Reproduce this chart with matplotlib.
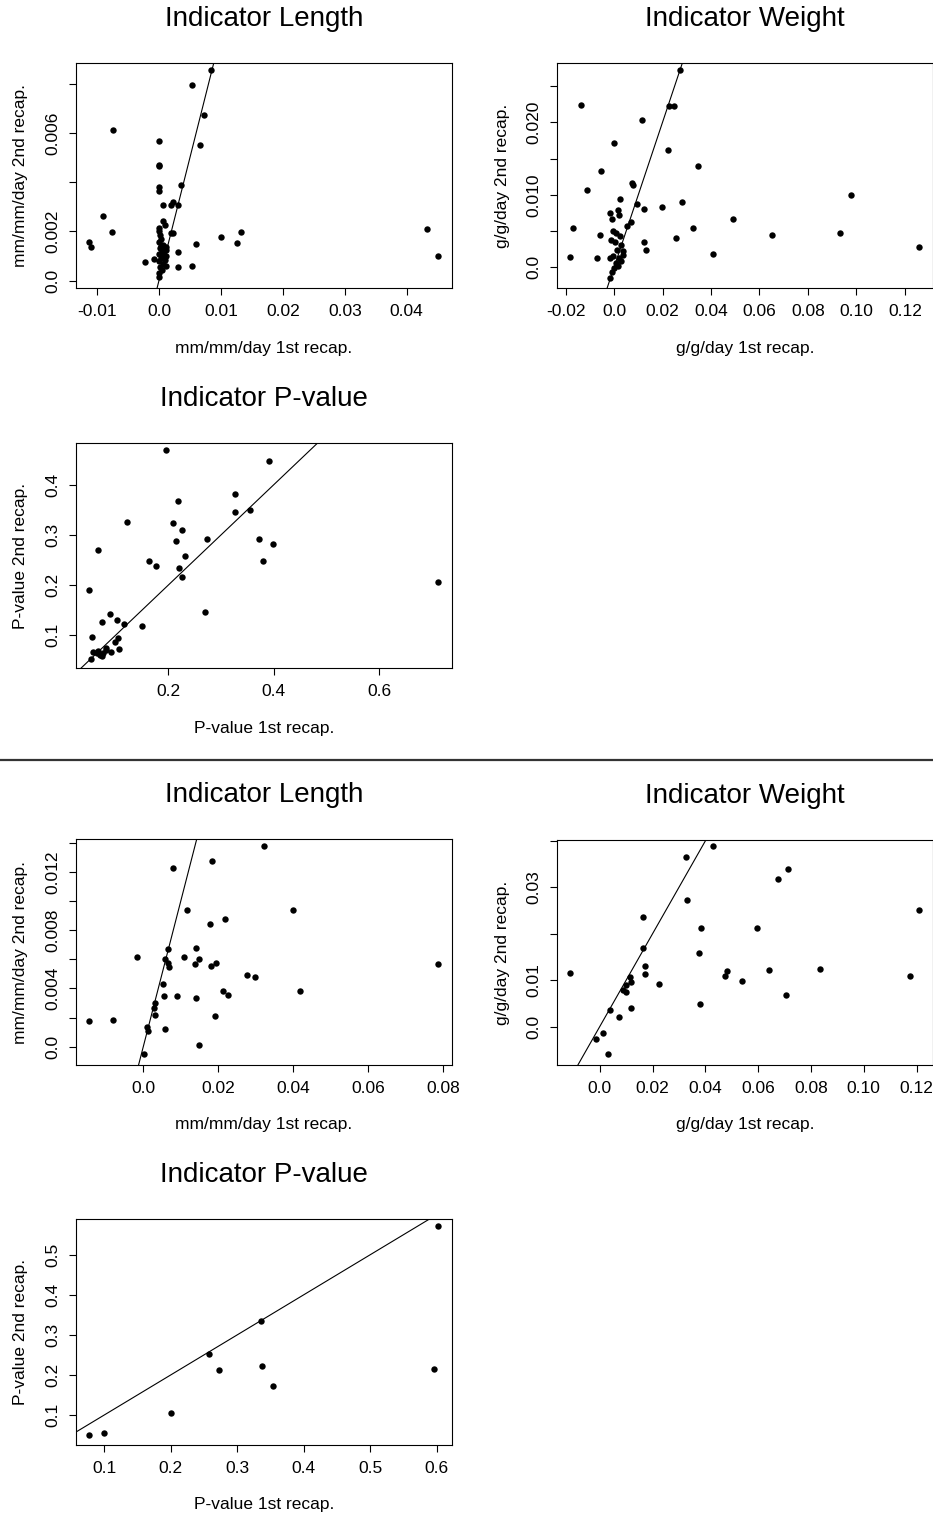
import numpy as np
import matplotlib
matplotlib.use('Agg')
import matplotlib.pyplot as plt
from matplotlib.lines import Line2D

plt.rcParams['font.family'] = ['Liberation Sans', 'DejaVu Sans']

# ---- top group ----
len1_x = [0.00833, 0.00532, 0.00726, -0.00742, 0.0, 0.00667, 0.0, 0.0, 0.00349, 0.0, 0.0,
          0.0007, 0.0019, 0.0023, 0.0030, -0.00903, 0.0006, 0.0009, -0.00763, 0.0019, 0.0023,
          0.01005, 0.01317, 0.01263, 0.00597, -0.01134, -0.01102, 0.0030, -0.00231, -0.0008,
          0.00527, 0.0030, 0.04328, 0.04505,
          0.0, 0.0, 0.0002, 0.0004, 0.0, 0.0007, 0.0011, 0.0002, 0.0005, 0.0012, 0.0, 0.0008,
          0.0012, 0.0004, 0.0, 0.0009, 0.0006, 0.0011, 0.0001, 0.0005, 0.0, 0.0, 0.0003]
len1_y = [0.00858, 0.00797, 0.00675, 0.00614, 0.00569, 0.00551, 0.00472, 0.00465, 0.00390, 0.00379, 0.00363,
          0.00309, 0.00309, 0.00320, 0.00309, 0.00264, 0.00244, 0.00228, 0.00199, 0.00192, 0.00195,
          0.00179, 0.00199, 0.00154, 0.00150, 0.00156, 0.00138, 0.00118, 0.00077, 0.00089,
          0.00061, 0.00057, 0.00211, 0.00102,
          0.00214, 0.00201, 0.00186, 0.00169, 0.00156, 0.00146, 0.00137, 0.00133, 0.00122, 0.00126, 0.00110, 0.00106,
          0.00099, 0.00092, 0.00081, 0.00083, 0.00069, 0.00061, 0.00056, 0.00045, 0.00031, 0.00014, 0.0014]

wt1_x = [0.0274, -0.01349, 0.02257, 0.02478, 0.01156, 0.0, 0.02216, 0.03455, -0.00523, -0.01115,
         0.00743, 0.00771, 0.00262, 0.00936, 0.02822, 0.09773, 0.01996, 0.01253, 0.00179, -0.00165,
         0.00193, -0.00069, 0.00716, 0.00551, 0.04914, -0.01693, 0.03262, -0.00592, 0.06497, 0.09319,
         0.02574, 0.01239, 0.01321, 0.1258, 0.04074, -0.01817, -0.00702,
         -0.0004, 0.001, -0.0011, 0.0023, 0.0003, 0.003, 0.0012, 0.0037, -0.0004, 0.0021, -0.0018,
         0.0007, 0.003, -0.0001, -0.0007, -0.0015, 0.0017, 0.0037]
wt1_y = [0.02726, 0.02244, 0.0223, 0.0223, 0.02037, 0.0172, 0.01623, 0.01402, 0.01333, 0.01071,
         0.01163, 0.0114, 0.00947, 0.00878, 0.00897, 0.01002, 0.00837, 0.00809, 0.00795, 0.00749,
         0.00717, 0.00671, 0.0063, 0.00575, 0.00671, 0.00547, 0.00547, 0.00451, 0.00451, 0.00478,
         0.00409, 0.00349, 0.00244, 0.00285, 0.00189, 0.00143, 0.00129,
         0.00497, 0.00474, 0.00382, 0.00428, 0.00345, 0.00313, 0.00244, 0.00221, 0.00152, 0.00129, 0.00129,
         0.0006, 0.00083, -0.00009, -0.00069, -0.00147, 0.00014, 0.00175]

pv1_x = [0.1956, 0.3899, 0.3268, 0.2177, 0.3268, 0.3539, 0.1218, 0.2082, 0.2259, 0.0669,
         0.2145, 0.2738, 0.3716, 0.3975, 0.2322, 0.1634, 0.1767, 0.3804, 0.2208, 0.2259,
         0.7115, 0.0498, 0.2688, 0.0902, 0.1035, 0.0751, 0.1155, 0.1495, 0.0555, 0.1054,
         0.0991, 0.1066, 0.0921, 0.0814,
         0.0580, 0.0644, 0.0707, 0.0770, 0.0820, 0.0738, 0.0530, 0.0675]
pv1_y = [0.4696, 0.4477, 0.3820, 0.3681, 0.3455, 0.3502, 0.3256, 0.3236, 0.3104, 0.2705,
         0.2885, 0.2924, 0.2924, 0.2825, 0.2586, 0.2486, 0.2387, 0.2486, 0.2347, 0.2168,
         0.2068, 0.1909, 0.1471, 0.1431, 0.1312, 0.1259, 0.1232, 0.1192, 0.0973, 0.0947,
         0.0874, 0.0735, 0.0675, 0.0748,
         0.0662, 0.0648, 0.0615, 0.0648, 0.0715, 0.0582, 0.0535, 0.0681]

# ---- bottom group ----
len2_x = [0.03227, 0.01822, 0.00782, 0.01156, 0.04, 0.02187, 0.01778, 0.00667, 0.01396, -0.00178,
          0.01076, 0.00569, 0.00667, 0.00684, 0.01493, 0.01387, 0.01804, 0.01929, 0.07867, 0.02773,
          0.02987, 0.00524, 0.02133, 0.02267, 0.04196, 0.00551, 0.00889, 0.01413, 0.0032, 0.00276,
          0.0032, 0.01911, -0.01449, -0.00818, 0.00089, 0.00133, 0.00587, 0.01476, 0.00018]
len2_y = [0.01381, 0.01278, 0.01228, 0.00941, 0.00941, 0.00879, 0.00842, 0.00672, 0.00679, 0.00613,
          0.00617, 0.00603, 0.00574, 0.00548, 0.00603, 0.00569, 0.00555, 0.00574, 0.00569, 0.00493,
          0.0048, 0.00431, 0.00383, 0.00356, 0.00383, 0.00349, 0.00349, 0.00335, 0.00301, 0.00266,
          0.00218, 0.00211, 0.00177, 0.00184, 0.00138, 0.00108, 0.00122, 0.00011, -0.0005]

wt2_x = [0.04283, 0.03285, 0.07113, 0.06734, 0.03298, 0.12091, 0.01642, 0.03828, 0.05963, 0.0163,
         0.03752, 0.01718, -0.01137, 0.01718, 0.08326, 0.06393, 0.04814, 0.04763, 0.05395, 0.1175,
         0.0115, 0.01175, 0.02249, 0.00998, 0.00884, 0.00998, 0.0705, 0.0379, 0.012, 0.00392,
         0.0072, 0.00139, -0.00139, 0.00316]
wt2_y = [0.03891, 0.03647, 0.03396, 0.0318, 0.02728, 0.02513, 0.02362, 0.02125, 0.02125, 0.01694,
         0.01586, 0.01307, 0.01156, 0.01134, 0.01242, 0.0122, 0.01199, 0.01091, 0.00983, 0.01091,
         0.01077, 0.00962, 0.00919, 0.00897, 0.0079, 0.00747, 0.00682, 0.00488, 0.00395, 0.00359,
         0.00208, -0.00136, -0.00266, -0.00589]

pv2_x = [0.602, 0.335, 0.2578, 0.2723, 0.337, 0.354, 0.5955, 0.2007, 0.077, 0.0995]
pv2_y = [0.5725, 0.335, 0.2525, 0.2125, 0.2225, 0.1725, 0.215, 0.105, 0.05, 0.0542]

W, H = 933, 1516
fig = plt.figure(figsize=(W / 100, H / 100), dpi=100)


def make_panel(box, x, y, xlim, ylim, xticks, xlabels, yticks, ylabels, title, xlab, ylab):
    left, top, right, bottom = box
    ax = fig.add_axes([left / W, 1 - bottom / H, (right - left) / W, (bottom - top) / H])
    ax.plot(x, y, 'o', color='black', markersize=4.6, markeredgewidth=0)
    ax.axline((0, 0), slope=1, color='black', lw=0.8)
    ax.set_xlim(xlim)
    ax.set_ylim(ylim)
    ax.set_xticks(xticks, xlabels)
    ax.set_yticks(yticks, ylabels)
    for s in ax.spines.values():
        s.set_linewidth(0.8)
    ax.tick_params(direction='out', length=4.8, width=0.8, pad=6.5, labelsize=12.5)
    plt.setp(ax.get_yticklabels(), rotation=90, va='center')
    ax.set_xlabel(xlab, fontsize=12.5, va='center')
    ax.xaxis.set_label_coords(0.5, -60 / (bottom - top))
    ax.set_ylabel(ylab, fontsize=12.5, va='center')
    ax.yaxis.set_label_coords(-55 / (right - left), 0.5)
    ax.annotate(title, xy=(0.5, 1), xycoords='axes fraction', xytext=(0, 44 * 0.72),
                textcoords='offset points', ha='center', va='center', fontsize=20)
    return ax


# top-left: Length
make_panel((76, 63, 452, 288), len1_x, len1_y, (-0.01339, 0.04731), (-0.000298, 0.008848),
           [-0.01, 0, 0.01, 0.02, 0.03, 0.04], ['-0.01', '0.0', '0.01', '0.02', '0.03', '0.04'],
           [0, 0.002, 0.004, 0.006, 0.008], ['0.0', '0.002', '', '0.006', ''],
           'Indicator Length', 'mm/mm/day 1st recap.', 'mm/mm/day 2nd recap.')
# top-right: Weight
make_panel((557, 63, 933, 288), wt1_x, wt1_y, (-0.02354, 0.1316), (-0.00285, 0.02818),
           [-0.02, 0, 0.02, 0.04, 0.06, 0.08, 0.10, 0.12],
           ['-0.02', '0.0', '0.02', '0.04', '0.06', '0.08', '0.10', '0.12'],
           [0, 0.005, 0.010, 0.015, 0.020, 0.025], ['0.0', '', '0.010', '', '0.020', ''],
           'Indicator Weight', 'g/g/day 1st recap.', 'g/g/day 2nd recap.')
# top: P-value
make_panel((76, 443, 452, 668), pv1_x, pv1_y, (0.0252, 0.7375), (0.035, 0.4829),
           [0.2, 0.4, 0.6], ['0.2', '0.4', '0.6'],
           [0.1, 0.2, 0.3, 0.4], ['0.1', '0.2', '0.3', '0.4'],
           'Indicator P-value', 'P-value 1st recap.', 'P-value 2nd recap.')

# separator between the two groups
fig.add_artist(Line2D([0, 1], [1 - 760 / H, 1 - 760 / H], color='#333333', lw=1.6))

# bottom-left: Length
make_panel((76, 839, 452, 1065), len2_x, len2_y, (-0.01796, 0.0824), (-0.00126, 0.01427),
           [0, 0.02, 0.04, 0.06, 0.08], ['0.0', '0.02', '0.04', '0.06', '0.08'],
           [0, 0.002, 0.004, 0.006, 0.008, 0.010, 0.012, 0.014],
           ['0.0', '', '0.004', '', '0.008', '', '0.012', ''],
           'Indicator Length', 'mm/mm/day 1st recap.', 'mm/mm/day 2nd recap.')
# bottom-right: Weight
make_panel((557, 840, 933, 1065), wt2_x, wt2_y, (-0.01617, 0.1262), (-0.00826, 0.0402),
           [0, 0.02, 0.04, 0.06, 0.08, 0.10, 0.12],
           ['0.0', '0.02', '0.04', '0.06', '0.08', '0.10', '0.12'],
           [0, 0.01, 0.02, 0.03, 0.04], ['0.0', '0.01', '', '0.03', ''],
           'Indicator Weight', 'g/g/day 1st recap.', 'g/g/day 2nd recap.')
# bottom: P-value
make_panel((76, 1219, 452, 1445), pv2_x, pv2_y, (0.0574, 0.6230), (0.025, 0.5892),
           [0.1, 0.2, 0.3, 0.4, 0.5, 0.6], ['0.1', '0.2', '0.3', '0.4', '0.5', '0.6'],
           [0.1, 0.2, 0.3, 0.4, 0.5], ['0.1', '0.2', '0.3', '0.4', '0.5'],
           'Indicator P-value', 'P-value 1st recap.', 'P-value 2nd recap.')

plt.savefig('out.png', dpi=100)
